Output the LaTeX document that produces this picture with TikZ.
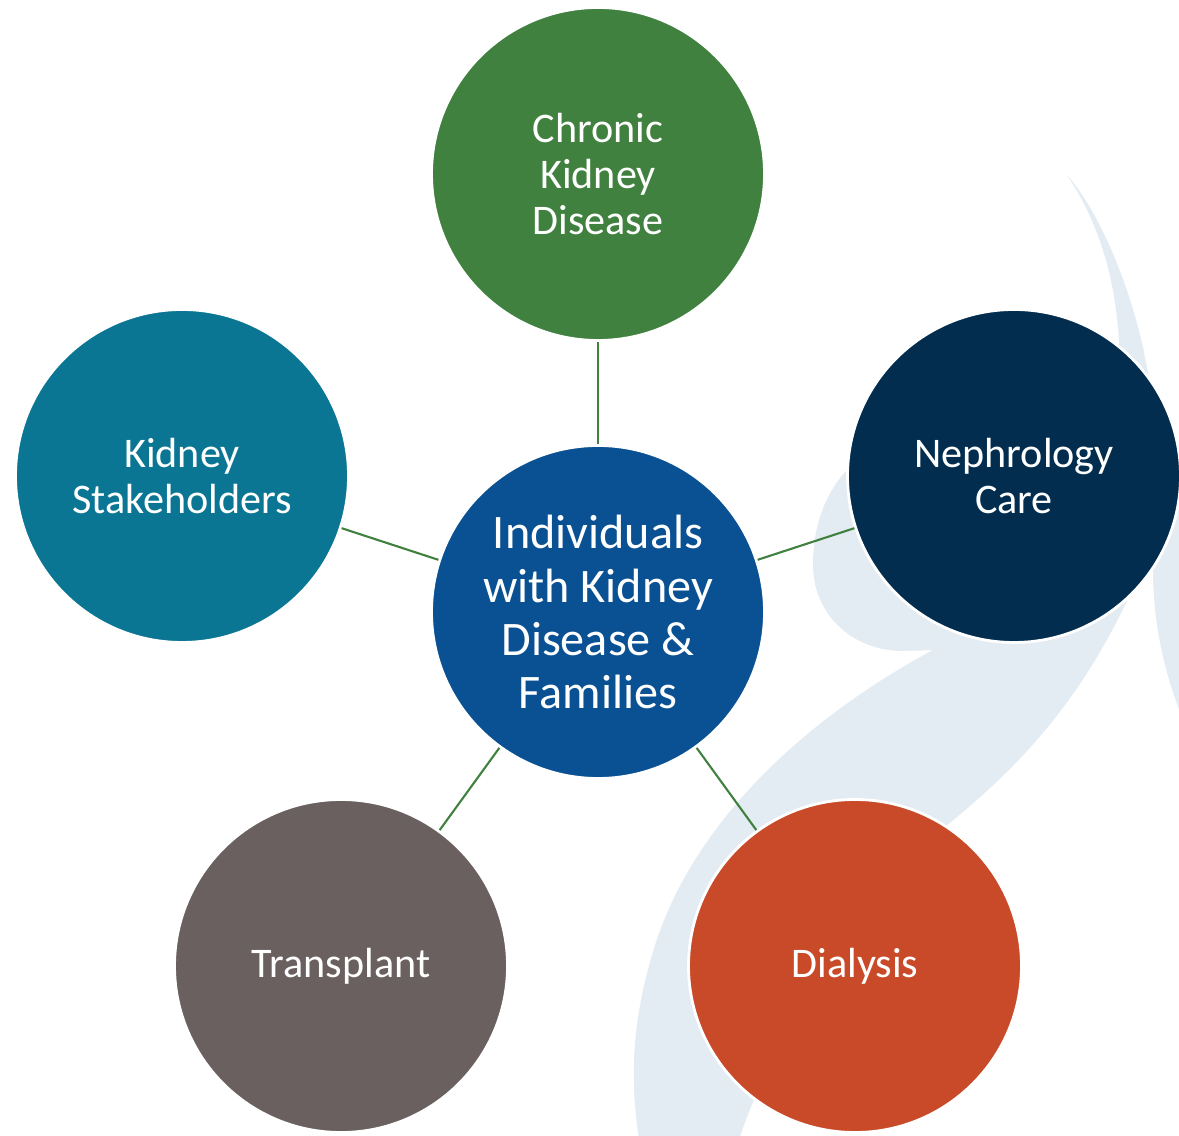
\documentclass[tikz,border=0pt]{standalone}
\usepackage{fontspec}
\setmainfont{Carlito}
\definecolor{ckdgreen}{HTML}{41813F}
\definecolor{staketeal}{HTML}{0A7694}
\definecolor{carenavy}{HTML}{022D4E}
\definecolor{hubblue}{HTML}{0A5194}
\definecolor{transgray}{HTML}{6A6060}
\definecolor{dialred}{HTML}{C94A28}
\definecolor{swoosh}{HTML}{E3EBF3}

\begin{document}
\begin{tikzpicture}[
        bubble/.style={circle,draw=white,line width=0.8pt,minimum size=3.33cm,inner sep=0pt,
            align=center,text=white,font=\fontsize{12}{13.1}\selectfont},
        link/.style={ckdgreen,line width=0.6pt}]
        \useasboundingbox (0,0) rectangle (11.79,11.35);
        \fill[swoosh] (8.9,7.0) .. controls (8.4,6.7) and (8.13,6.3) .. (8.13,5.7)
            .. controls (8.13,5.2) and (8.53,4.84) .. (9.03,4.84) -- (9.33,4.85)
            .. controls (8.3,4.3) and (7.0,3.3) .. (6.55,1.9)
            .. controls (6.3,1.1) and (6.3,0.5) .. (6.4,-0.1) -- (7.37,-0.1)
            .. controls (7.9,1.5) and (9.0,2.7) .. (9.51,3.13)
            .. controls (10.2,3.7) and (10.9,4.4) .. (11.45,5.75) -- (10.2,6.6) -- cycle;
        \fill[swoosh] (10.67,9.60) .. controls (10.85,9.4) and (11.2,8.85) .. (11.43,7.88)
            .. controls (11.55,7.2) and (11.7,6.8) .. (12.1,6.5) -- (12.1,3.6)
            .. controls (11.7,4.3) and (11.53,5.0) .. (11.53,5.65) -- (11.2,7.6)
            .. controls (11.2,8.5) and (11.0,9.1) .. cycle;
        \node[bubble,fill=hubblue,font=\fontsize{13.7}{15.1}\selectfont] (hub) at (5.98,5.23)
            {Individuals\\with Kidney\\Disease \&\\Families};
        \node[bubble,fill=ckdgreen] (ckd) at (5.98,9.61) {Chronic\\Kidney\\Disease};
        \node[bubble,fill=staketeal] (stake) at (1.82,6.59) {Kidney\\Stakeholders};
        \node[bubble,fill=carenavy] (care) at (10.14,6.59) {Nephrology\\Care};
        \node[bubble,fill=transgray] (trans) at (3.41,1.69) {Transplant};
        \node[bubble,fill=dialred] (dial) at (8.55,1.69) {Dialysis};
        \foreach \Bubble in {ckd,stake,care,trans,dial}
        \draw[link] (hub) -- (\Bubble);
\end{tikzpicture}
\end{document}
